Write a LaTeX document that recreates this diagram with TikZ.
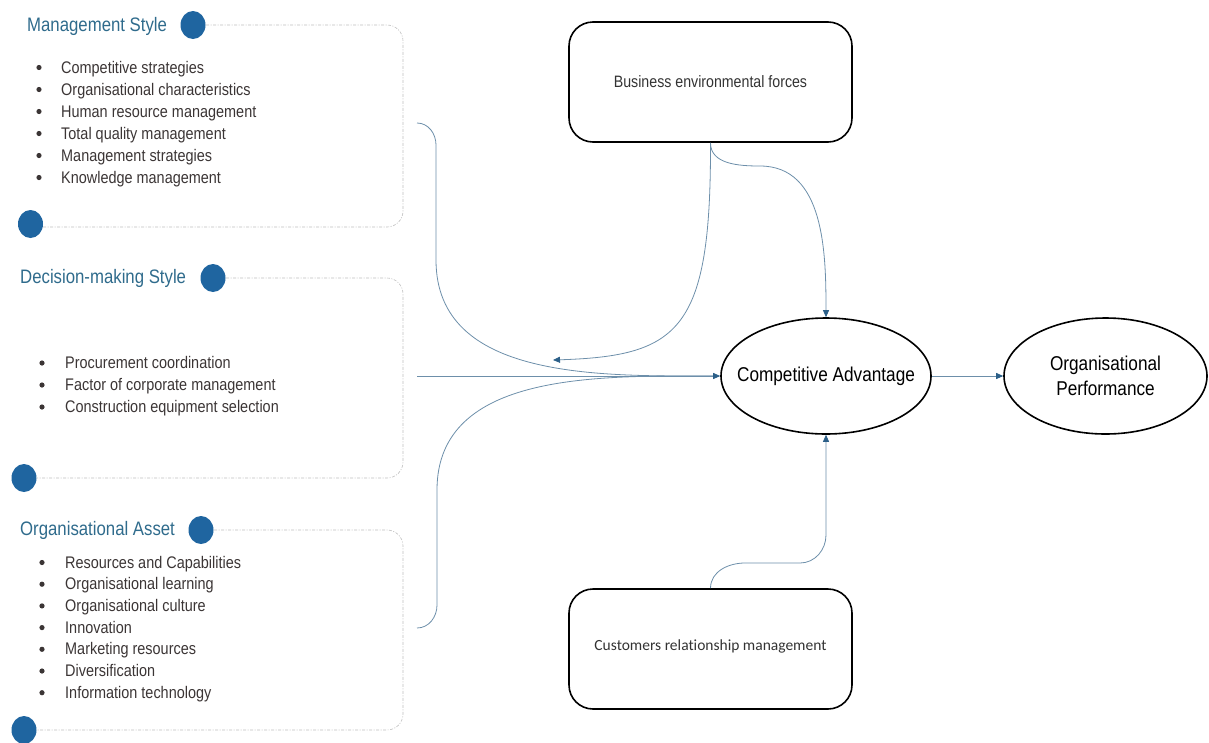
\documentclass[tikz,border=0pt]{standalone}
\usepackage{fontspec}
\setmainfont{Liberation Sans}
\newfontfamily\narrowsans{Liberation Sans}[FakeStretch=0.86]
\newfontfamily\calibrisans{Carlito}[Ligatures=NoCommon]
\usetikzlibrary{shapes.geometric,arrows.meta}
\definecolor{titleblue}{HTML}{2F6B8C}
\definecolor{dotblue}{HTML}{1F65A0}
\definecolor{linkblue}{HTML}{6D8FAA}
\definecolor{tipblue}{HTML}{2B5F88}
\definecolor{itemgray}{HTML}{3B3535}
\tikzset{
  panel/.style={draw=gray!50,line width=0.6pt,dash pattern=on 3pt off 1.5pt on 1pt off 1.5pt,rounded corners=16pt},
  knob/.style={fill=dotblue},
  heading/.style={anchor=base west,inner sep=0pt,text=titleblue,font=\narrowsans\fontsize{19.5}{22}\selectfont},
  entry/.style={anchor=base west,inner sep=0pt,text=itemgray,font=\narrowsans\fontsize{16.8}{18}\selectfont},
  forcebox/.style={draw,line width=1.6pt,rounded corners=24pt,minimum width=283pt,minimum height=120pt,text=black!80},
  factor/.style={ellipse,draw,line width=1.6pt,minimum width=210pt,minimum height=116pt,inner sep=0pt,align=center,font=\narrowsans\fontsize{20}{25}\selectfont},
  link/.style={draw=linkblue,line width=0.8pt},
  tip/.style={-{Triangle[length=7pt,width=6pt,color=tipblue]}}
}
\begin{document}
\begin{tikzpicture}[x=1pt,y=-1pt]
  \useasboundingbox (0,0) rectangle (1209,742);
  % left panels
  \draw[panel] (206,25) -- (403,25) -- (403,227) -- (43,227);
  \fill[knob] (193,25) ellipse (12.5pt and 14pt);
  \fill[knob] (30.5,224) ellipse (12.5pt and 14pt);
  \node[heading] (ms) at (27,31) {Management Style};
  \foreach \txt [count=\i from 0] in {Competitive strategies,Organisational characteristics,Human resource management,Total quality management,Management strategies,Knowledge management} {
    \fill[itemgray] ({39},{67.5+22*\i}) circle (2.6pt);
    \node[entry] (ms-\i) at ({61},{73+22*\i}) {\txt};
  }

  \draw[panel] (226,278) -- (403,278) -- (403,478) -- (37,478);
  \fill[knob] (213,278) ellipse (12.5pt and 14pt);
  \fill[knob] (24,478) ellipse (12.5pt and 14pt);
  \node[heading] (ds) at (20,283) {Decision-making Style};
  \foreach \txt [count=\i from 0] in {Procurement coordination,Factor of corporate management,Construction equipment selection} {
    \fill[itemgray] ({42},{363+22*\i}) circle (2.6pt);
    \node[entry] (ds-\i) at ({65},{368.5+22*\i}) {\txt};
  }

  \draw[panel] (214,530) -- (403,530) -- (403,730) -- (37,730);
  \fill[knob] (201,530) ellipse (12.5pt and 14pt);
  \fill[knob] (24,730) ellipse (12.5pt and 14pt);
  \node[heading] (oa) at (20,535) {Organisational Asset};
  \foreach \txt [count=\i from 0] in {Resources and Capabilities,Organisational learning,Organisational culture,Innovation,Marketing resources,Diversification,Information technology} {
    \fill[itemgray] ({42},{562.5+21.7*\i}) circle (2.6pt);
    \node[entry] (oa-\i) at ({65},{568+21.7*\i}) {\txt};
  }

  % right side
  \node[forcebox,font=\narrowsans\fontsize{16.5}{18}\selectfont] (bef) at (710.5,82) {Business environmental forces};
  \node[forcebox,font=\calibrisans\fontsize{15.5}{18}\selectfont] (crm) at (710.5,649) {\raisebox{7pt}{Customers relationship management}};
  \node[factor,inner xsep=-15pt] (ca) at (826,376) {Competitive Advantage};
  \node[factor,minimum width=203pt] (op) at (1105.5,376) {Organisational\\Performance};

  \coordinate (ms-out) at (417,123);
  \coordinate (ds-out) at (417,376);
  \coordinate (oa-out) at (417,628);
  \coordinate (bef-tip) at (553,360);

  % connectors
  \draw[link,shorten >=5pt] (ms-out) to[out=0,in=90] (436,145) -- (436,260) to[out=-90,in=180] (ca.west);
  \draw[link,shorten >=5pt] (oa-out) to[out=0,in=-90] (437,605) -- (437,490) to[out=90,in=180] (ca.west);
  \draw[link,tip] (ds-out) -- (ca.west);
  \draw[link,tip] (bef.south) .. controls (711,330) and (680,356) .. (bef-tip);
  \draw[link,tip] (bef.south) to[out=-90,in=180] (760,166) to[out=0,in=90] (ca.north);
  \draw[link,tip] (crm.north) to[out=90,in=180] (745,563) -- (800,563) to[out=0,in=-90] (826,535) -- (ca.south);
  \draw[link,tip] (ca.east) -- (op.west);
\end{tikzpicture}
\end{document}
